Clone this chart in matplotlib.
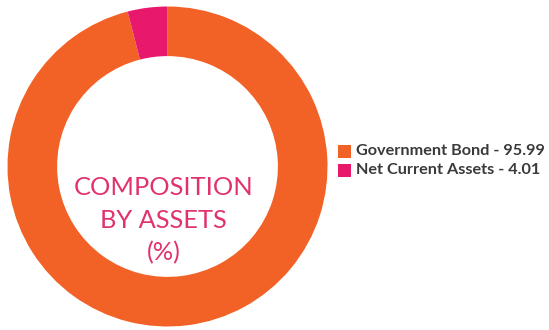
import matplotlib.pyplot as plt
from matplotlib.patches import Rectangle

labels = ["Government Bond", "Net Current Assets"]
values = [95.99, 4.01]
colors = ["#F26126", "#E8186D"]
center_lines = ["COMPOSITION", "BY ASSETS", "(%)"]

W, H = 549, 330
fig = plt.figure(figsize=(W / 100, H / 100), dpi=100)
ax = fig.add_axes([0, 0, 1, 1])

# donut (y axis is flipped, so counterclock=True draws clockwise on screen)
cx, cy, r = 167.5, 166.5, 160
ax.pie(values, colors=colors, startangle=-90, counterclock=True,
       center=(cx, cy), radius=r, frame=True,
       wedgeprops=dict(width=r * 0.31, linewidth=0))
ax.set_xlim(0, W)
ax.set_ylim(H, 0)
ax.set_aspect("equal")
ax.axis("off")

for i, line in enumerate(center_lines):
    ax.text(163.5, 187.5 + i * 32.5, line, ha="center", va="center",
            fontsize=18.3, family="Lato", color="#E0336E")

# legend
for i, (lab, val, col) in enumerate(zip(labels, values, colors)):
    y = 151 + i * 19
    ax.add_patch(Rectangle((338, y - 6.5), 13, 13, color=col, lw=0))
    ax.text(356, y, f"{lab} - {val:.2f}", ha="left", va="center",
            fontsize=11.7, family="Lato", fontweight="bold", color="#3a3a3a")

fig.savefig("out.png", dpi=100)
